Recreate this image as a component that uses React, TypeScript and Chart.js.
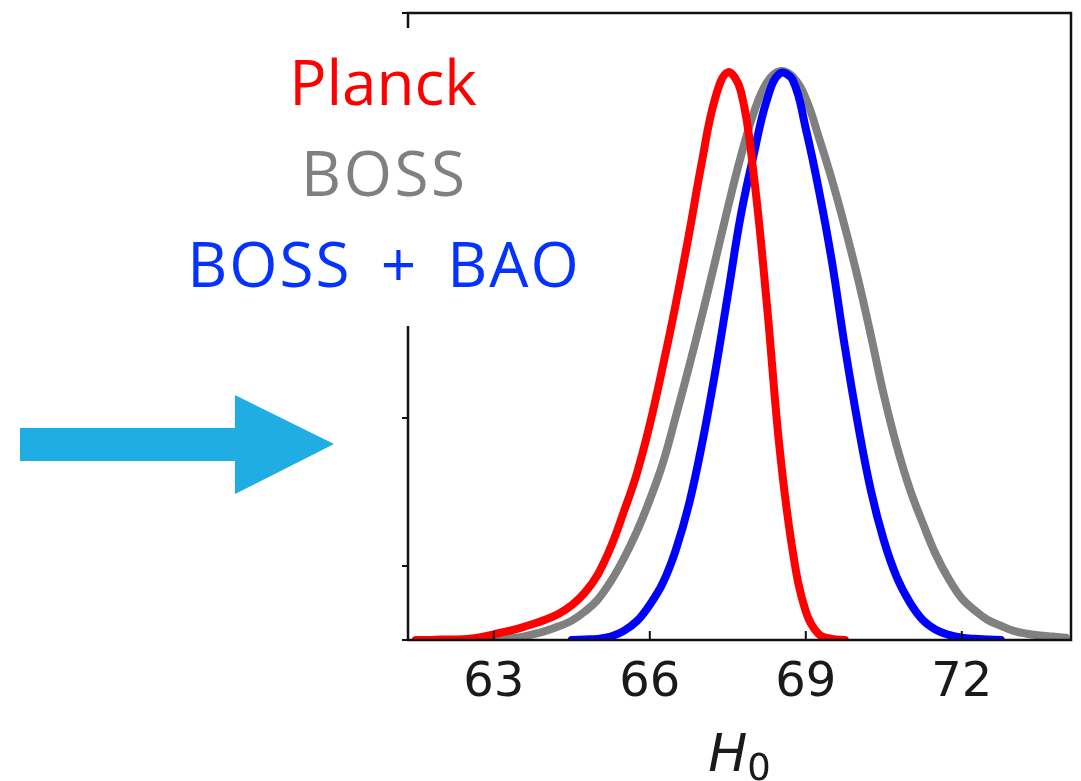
import React, { useEffect, useRef } from 'react';
import { Chart, registerables } from 'chart.js';

Chart.register(...registerables);

// H0 grid (km/s/Mpc)
const h0Values = [
  61.5, 61.75, 62, 62.25, 62.5, 62.75, 63, 63.25, 63.5, 63.75,
  64, 64.25, 64.5, 64.75, 65, 65.25, 65.5, 65.75, 66, 66.25,
  66.5, 66.75, 67, 67.25, 67.5, 67.75, 68, 68.25, 68.5, 68.75,
  69, 69.25, 69.5, 69.75, 70, 70.25, 70.5, 70.75, 71, 71.25,
  71.5, 71.75, 72, 72.25, 72.5, 72.75, 73, 73.25, 73.5, 73.75, 74,
];

// Planck posterior (normalised); null where the curve is not drawn
const planck = [
  0, 0, 0.001, 0.001, 0.002, 0.005, 0.01, 0.015, 0.021, 0.028,
  0.036, 0.046, 0.061, 0.083, 0.115, 0.163, 0.225, 0.292, 0.378, 0.48,
  0.59, 0.71, 0.838, 0.948, 0.996, 0.963, 0.815, 0.59, 0.333, 0.155,
  0.05, 0.01, 0.002, 0, null, null, null, null, null, null,
  null, null, null, null, null, null, null, null, null, null, null,
];

// BOSS posterior (normalised)
const boss = [
  null, null, null, null, 0.001, 0.001, 0.002, 0.003, 0.005, 0.01,
  0.016, 0.024, 0.034, 0.05, 0.071, 0.103, 0.143, 0.19, 0.246, 0.31,
  0.392, 0.478, 0.568, 0.662, 0.758, 0.848, 0.925, 0.978, 0.998, 0.988,
  0.95, 0.882, 0.808, 0.725, 0.635, 0.535, 0.43, 0.34, 0.265, 0.205,
  0.15, 0.107, 0.073, 0.052, 0.035, 0.025, 0.016, 0.011, 0.008, 0.006, 0.004,
];

// BOSS + BAO posterior (normalised)
const bossBao = [
  null, null, null, null, null, null, null, null, null, null,
  null, null, 0, 0.001, 0.002, 0.006, 0.016, 0.033, 0.062, 0.1,
  0.158, 0.237, 0.342, 0.466, 0.605, 0.745, 0.852, 0.947, 0.994, 0.982,
  0.897, 0.79, 0.665, 0.515, 0.38, 0.263, 0.175, 0.11, 0.066, 0.035,
  0.018, 0.009, 0.004, 0.002, 0.001, 0, null, null, null, null, null,
];

const xTickValues = [63, 66, 69, 72];
const yTickValues = [0, 0.13, 0.39, 1.1];
const legendLabels = ['Planck', 'BOSS', 'BOSS + BAO'];
const legendColors = ['#ff0000', '#808080', '#0433ff'];
const lineColors = ['#ff0000', '#808080', '#0000ff'];

const framePlugin = {
  id: 'frame',
  afterDraw(chart: any) {
    const { ctx, chartArea: a, scales } = chart;
    ctx.save();
    ctx.strokeStyle = '#111';
    ctx.lineWidth = 2.5;
    ctx.strokeRect(a.left, a.top, a.right - a.left, a.bottom - a.top);
    ctx.lineWidth = 2;
    for (const v of xTickValues) {
      const px = scales.x.getPixelForValue(v);
      ctx.beginPath();
      ctx.moveTo(px, a.bottom);
      ctx.lineTo(px, a.bottom - 9);
      ctx.stroke();
    }
    ctx.restore();
  },
};

export default function App() {
  const ref = useRef<HTMLCanvasElement>(null);

  useEffect(() => {
    const series = [planck, bossBao, boss];
    const names = ['Planck', 'BOSS + BAO', 'BOSS'];
    const colors = [lineColors[0], lineColors[2], lineColors[1]];
    const chart = new Chart(ref.current as HTMLCanvasElement, {
      type: 'line',
      data: {
        datasets: series.map((s, k) => ({
          label: names[k],
          data: h0Values.map((x, i) => ({ x, y: s[i] })),
          borderColor: colors[k],
          backgroundColor: colors[k],
          borderWidth: 8,
          pointRadius: 0,
          fill: false,
          tension: 0.4,
          spanGaps: false,
          borderCapStyle: 'round' as const,
          borderJoinStyle: 'round' as const,
        })),
      },
      options: {
        animation: false,
        responsive: false,
        events: [],
        layout: { padding: { top: 13, right: 10, left: 0, bottom: 0 } },
        plugins: { legend: { display: false }, tooltip: { enabled: false } },
        scales: {
          x: {
            type: 'linear',
            min: 61.35,
            max: 74.1,
            afterBuildTicks: (s: any) => {
              s.ticks = xTickValues.map((v) => ({ value: v }));
            },
            afterFit: (s: any) => {
              s.height = 141;
            },
            grid: { display: false },
            border: { display: false },
            ticks: {
              font: { family: 'DejaVu Sans', size: 48 },
              color: '#1a1a1a',
              padding: 7,
              maxRotation: 0,
              autoSkip: false,
            },
          },
          y: {
            type: 'linear',
            min: 0,
            max: 1.1,
            afterBuildTicks: (s: any) => {
              s.ticks = yTickValues.map((v) => ({ value: v }));
            },
            afterFit: (s: any) => {
              s.width = 408;
            },
            grid: { drawOnChartArea: false, drawTicks: true, tickLength: 6, color: '#111', lineWidth: 2 },
            border: { display: false },
            ticks: { display: false },
          },
        },
      },
      plugins: [framePlugin],
    });
    return () => chart.destroy();
  }, []);

  const legendTops = [50, 141, 232];
  const legendLetterSpacing = [0, 2.5, 2];
  const legendWordSpacing = [0, 0, 11];

  return (
    <div style={{ position: 'fixed', left: 0, top: 0, width: 1081, height: 781, background: '#fff', overflow: 'hidden' }}>
      <canvas ref={ref} width={1081} height={781} style={{ position: 'absolute', left: 0, top: 0 }} />
      <svg width={1081} height={781} style={{ position: 'absolute', left: 0, top: 0 }}>
        <polygon points="20,428 235,428 235,395 334,444 235,494 235,461 20,461" fill="#1fade3" />
      </svg>
      <div style={{ position: 'absolute', left: 170, top: 28, width: 422, height: 298, background: '#fff' }} />
      {legendLabels.map((t, i) => (
        <div
          key={t}
          style={{
            position: 'absolute',
            left: legendLetterSpacing[i] / 2,
            width: 766,
            top: legendTops[i],
            textAlign: 'center',
            fontFamily: '"Open Sans", sans-serif',
            fontSize: 62,
            lineHeight: '62px',
            letterSpacing: legendLetterSpacing[i],
            wordSpacing: legendWordSpacing[i],
            color: legendColors[i],
            whiteSpace: 'nowrap',
          }}
        >
          {t}
        </div>
      ))}
      <div
        style={{
          position: 'absolute',
          left: 408,
          width: 663,
          top: 727,
          textAlign: 'center',
          fontFamily: 'DejaVu Sans, sans-serif',
          fontSize: 52,
          lineHeight: '52px',
          color: '#1a1a1a',
          whiteSpace: 'nowrap',
        }}
      >
        <span style={{ fontStyle: 'italic' }}>H</span>
        <span style={{ fontSize: 37, position: 'relative', top: 9 }}>0</span>
      </div>
    </div>
  );
}
